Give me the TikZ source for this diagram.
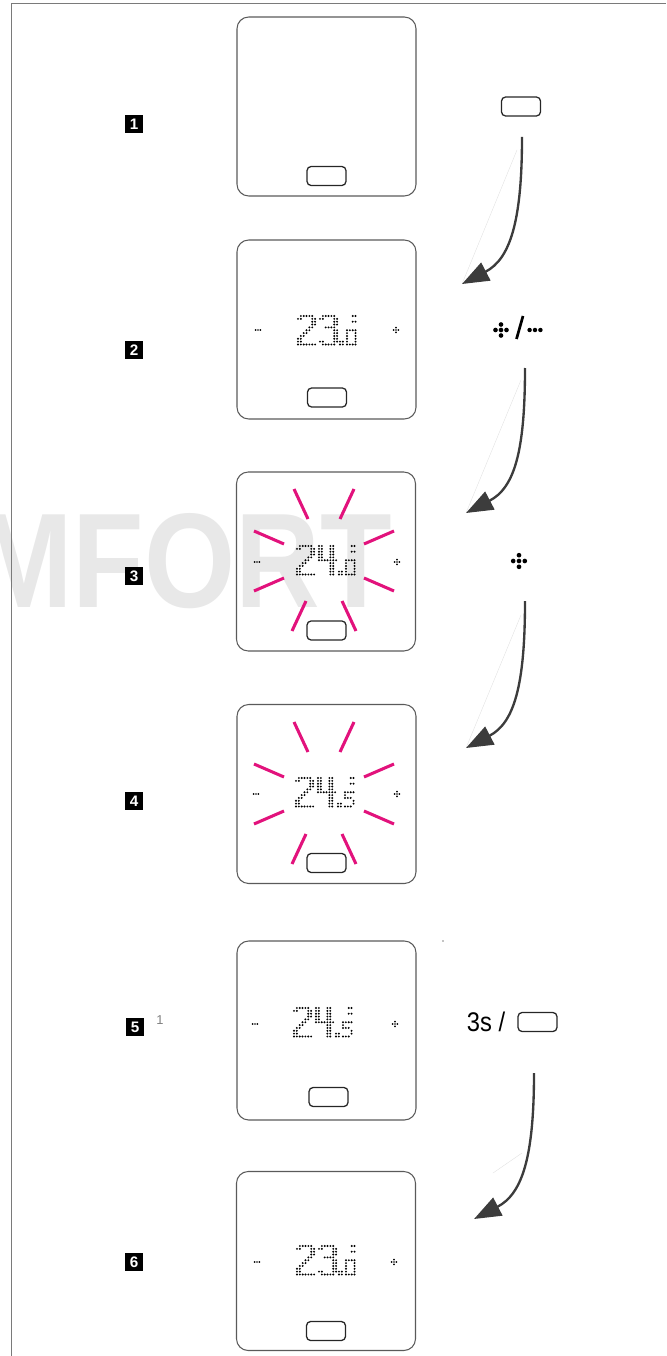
\documentclass[tikz,border=0pt]{standalone}
\usepackage{fontspec}
\setmainfont{Liberation Sans}
\setsansfont{Liberation Sans}
\usetikzlibrary{arrows.meta,positioning}

\definecolor{casegray}{HTML}{5A5A5A}
\definecolor{flowgray}{HTML}{3C3C3C}
\definecolor{raypink}{HTML}{E2127C}
\definecolor{markgray}{HTML}{E8E8E8}
\definecolor{framegray}{HTML}{7A7A7A}

\tikzset{
  devbox/.style={draw=casegray, line width=0.9pt, rounded corners=10pt,
    minimum width=179*0.03cm, minimum height=179*0.03cm, inner sep=0pt},
  btnbox/.style={draw=black!85, line width=1.1pt, rounded corners=3.5pt,
    minimum width=39*0.03cm, minimum height=19*0.03cm, inner sep=0pt},
  steptag/.style={fill=black, text=white, minimum size=15.5pt, inner sep=0pt,
    font=\bfseries\fontsize{13}{13}\selectfont},
  flow/.style={draw=flowgray, line width=2pt, -{Triangle[length=23pt,width=17pt]}},
  ghost/.style={draw=gray!25, line width=0.3pt},
  ray/.style={draw=raypink, line width=2.6pt},
}

% dot matrix glyphs, one brace group per row
\def\glyphtwo{{0,1,1,1,1,1,0},{1,1,0,0,0,1,1},{0,0,0,0,0,1,1},{0,0,0,0,0,1,1},{0,0,0,0,1,1,0},{0,0,0,1,1,0,0},{0,0,1,1,0,0,0},{0,1,1,0,0,0,0},{1,1,0,0,0,0,0},{1,1,0,0,0,0,0},{1,1,1,1,1,1,1}}
\def\glyphthree{{0,1,1,1,1,1,0},{1,1,0,0,0,1,1},{0,0,0,0,0,1,1},{0,0,0,0,0,1,1},{0,0,1,1,1,1,0},{0,0,0,0,0,1,1},{0,0,0,0,0,1,1},{0,0,0,0,0,1,1},{0,0,0,0,0,1,1},{1,1,0,0,0,1,1},{0,1,1,1,1,1,0}}
\def\glyphfour{{1,1,0,0,1,1,0},{1,1,0,0,1,1,0},{1,1,0,0,1,1,0},{1,1,0,0,1,1,0},{1,1,0,0,1,1,0},{1,1,1,1,1,1,1},{0,0,0,0,1,1,0},{0,0,0,0,1,1,0},{0,0,0,0,1,1,0},{0,0,0,0,1,1,0},{0,0,0,0,1,1,0}}
\def\glyphzero{{1,1,1,1},{1,0,0,1},{1,0,0,1},{1,0,0,1},{1,0,0,1},{1,1,1,1}}
\def\glyphfive{{1,1,1,1},{1,0,0,0},{1,1,1,0},{0,0,0,1},{0,0,0,1},{1,1,1,0}}
\def\glyphpoint{{1,1},{1,1}}
\def\glyphdeg{{1,1},{0,0},{1,1}}
\def\lcdpitch{2.85}

\newcommand{\dotglyph}[3]{% top left dot x, y, rows
  \foreach \row [count=\j] in #3 {
    \foreach \bit [count=\i] in \row {
      \ifnum\bit=1 \fill ({#1+(\i-1)*\lcdpitch},{#2+(\j-1)*\lcdpitch}) circle (0.92pt);\fi
    }
  }
}
\newcommand{\readout}[5]{% origin x, y, big digit, big digit, small digit
  \dotglyph{#1}{#2}{#3}
  \dotglyph{#1+22}{#2}{#4}
  \dotglyph{#1+42}{#2+25.65}{\glyphpoint}
  \dotglyph{#1+49}{#2+14.25}{#5}
  \dotglyph{#1+54.7}{#2}{\glyphdeg}
}
\newcommand{\dotplus}[4]{% centre x, y, pitch, dot radius
  \foreach \dx/\dy in {0/0,1/0,-1/0,0/1,0/-1}
    \fill ({#1+\dx*#3},{#2+\dy*#3}) circle (#4);
}
\newcommand{\dotminus}[4]{%
  \foreach \dx in {-1,0,1}
    \fill ({#1+\dx*#3},#2) circle (#4);
}
\newcommand{\burst}[2]{% pink rays round a display centre
  \foreach \ax/\ay/\bx/\by in {16/-42/30/-72,-16/-42/-30/-72,40/-17/70/-30,-40/-17/-70/-30,
      40/17/70/30,-40/17/-70/30,18/40/32/70,-18/40/-32/70}
    \draw[ray] ({#1+\ax},{#2+\ay}) -- ({#1+\bx},{#2+\by});
}

\begin{document}
\begin{tikzpicture}[x=0.03cm, y=-0.03cm, line join=round]
  \useasboundingbox (0,0) rectangle (666,1356);

  % watermark behind everything
  \node[anchor=base east, inner sep=0pt, text=markgray,
    font=\bfseries\fontsize{115}{115}\selectfont] (mark) at (392,607) {\scalebox{0.87}[1]{MFORT}};

  \draw[framegray, line width=0.8pt] (11,1356) -- (11,3) -- (666,3); % page frame

  % devices
  \node[devbox] (dev1) at (326.5,106.5) {};
  \node[devbox] (dev2) at (326.5,329.5) {};
  \node[devbox] (dev3) at (326,561.5) {};
  \node[devbox] (dev4) at (326.5,794) {};
  \node[devbox] (dev5) at (326.5,1030.5) {};
  \node[devbox] (dev6) at (326,1261) {};

  \node[btnbox] (btn1) at (326.5,176) {};
  \node[btnbox] (btn2) at (327,397.5) {};
  \node[btnbox] (btn3) at (326.5,630.5) {};
  \node[btnbox] (btn4) at (326.5,863) {};
  \node[btnbox] (btn5) at (328.5,1097) {};
  \node[btnbox] (btn6) at (326,1331) {};

  % step tags
  \node[steptag] (tag1) at (134,124) {1};
  \node[steptag] (tag2) at (134,350) {2};
  \node[steptag] (tag3) at (134,576) {3};
  \node[steptag] (tag4) at (134,801) {4};
  \node[steptag] (tag5) at (135,1027) {5};
  \node[steptag] (tag6) at (134,1262) {6};
  \node[text=gray, font=\fontsize{11}{11}\selectfont, inner sep=0pt] (note5) at (160,1020) {1};

  % flashing rays
  \burst{324}{561}
  \burst{324}{794}

  % readouts
  \readout{298}{316}{\glyphtwo}{\glyphthree}{\glyphzero}
  \readout{297}{546}{\glyphtwo}{\glyphfour}{\glyphzero}
  \readout{296}{778}{\glyphtwo}{\glyphfour}{\glyphfive}
  \readout{294}{1008}{\glyphtwo}{\glyphfour}{\glyphfive}
  \readout{297}{1246}{\glyphtwo}{\glyphthree}{\glyphzero}

  \dotminus{258}{330}{2.4}{0.8pt}  \dotplus{396}{330}{2.4}{0.8pt}
  \dotminus{257}{562}{2.4}{0.8pt}  \dotplus{397}{562}{2.4}{0.8pt}
  \dotminus{256}{794}{2.4}{0.8pt}  \dotplus{397}{794}{2.4}{0.8pt}
  \dotminus{255}{1024}{2.4}{0.8pt} \dotplus{395}{1024}{2.4}{0.8pt}
  \dotminus{257}{1262}{2.4}{0.8pt} \dotplus{394}{1262}{2.4}{0.8pt}

  % actions
  \node[btnbox] (act1) at (521,106.5) {};
  \dotplus{501}{330}{5.5}{2pt}
  \draw[line width=2.3pt] (516.5,339) -- (523,316); % slash
  \dotminus{535}{330}{5.4}{1.9pt}
  \dotplus{519}{561}{5.8}{2pt}
  \node[font=\fontsize{23}{23}\selectfont, inner sep=0pt] (act5) at (486,1022) {\scalebox{0.88}[1]{3s /}};
  \node[btnbox, right=12*0.03cm of act5] (actbtn5) {};

  % arrows
  \coordinate (s1) at (522,137);  \coordinate (e1) at (462,284);
  \coordinate (s2) at (525,368);  \coordinate (e2) at (466,513);
  \coordinate (s3) at (525,601);  \coordinate (e3) at (466,748);
  \coordinate (s5) at (534,1073); \coordinate (e5) at (474,1219);

  \draw[ghost] (517,150) -- (e1);
  \draw[ghost] (521,380) -- (e2);
  \draw[ghost] (521,615) -- (e3);
  \draw[ghost] (522,1153) -- (493,1173);
  \draw[flow] (s1) .. controls +(0,85) and +(48,-25) .. (e1);
  \draw[flow] (s2) .. controls +(0,85) and +(48,-25) .. (e2);
  \draw[flow] (s3) .. controls +(0,85) and +(48,-25) .. (e3);
  \draw[flow] (s5) .. controls +(0,85) and +(48,-25) .. (e5);

  \fill (443,941) circle (0.5pt); % stray mark
\end{tikzpicture}
\end{document}
